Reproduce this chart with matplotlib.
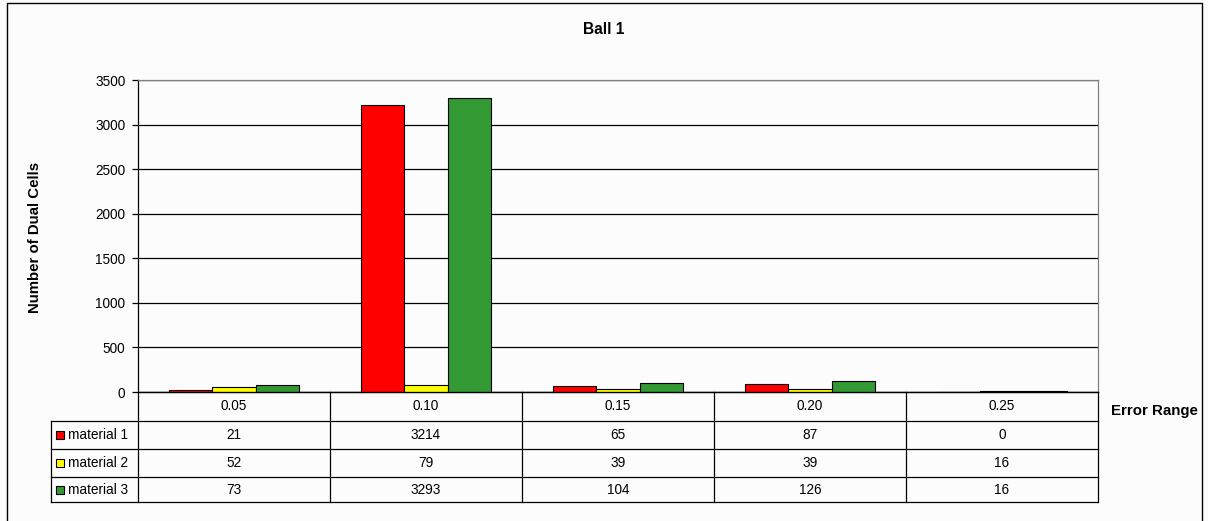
import matplotlib
matplotlib.use("Agg")
import matplotlib.pyplot as plt
from matplotlib.patches import Rectangle
from matplotlib.lines import Line2D
import numpy as np

plt.rcParams['font.family'] = ['Liberation Sans', 'DejaVu Sans']

# data
categories = ["0.05", "0.10", "0.15", "0.20", "0.25"]
series_names = ["material 1", "material 2", "material 3"]
material_1 = [21, 3214, 65, 87, 0]
material_2 = [52, 79, 39, 39, 16]
material_3 = [73, 3293, 104, 126, 16]
series_values = [material_1, material_2, material_3]
colors = ["#ff0000", "#ffff00", "#339933"]
yticks = [0, 500, 1000, 1500, 2000, 2500, 3000, 3500]

W, H = 1208, 521
bg = "#fbfcfb"
fs = 9.8
fs_bold = 10.8
fig = plt.figure(figsize=(W / 100, H / 100), dpi=100, facecolor=bg)


def fx(px):
    return px / W


def fy(py):
    return 1 - py / H


# plot area in pixels
left, right, top, bottom = 138, 1098, 80, 392
ax = fig.add_axes([fx(left), fy(bottom), fx(right - left), (bottom - top) / H])
ax.set_facecolor(bg)

x = np.arange(len(categories))
bw = 0.225
for i, (vals, c) in enumerate(zip(series_values, colors)):
    ax.bar(x + (i - 1) * bw, vals, width=bw, color=c, edgecolor="black",
           linewidth=0.8, zorder=3)

ax.set_xlim(-0.5, len(categories) - 0.5)
ax.set_ylim(0, 3500)
ax.set_yticks(yticks)
ax.set_yticklabels([str(t) for t in yticks], fontsize=fs)
ax.yaxis.grid(True, color="black", linewidth=0.9, zorder=0)
ax.tick_params(axis="y", direction="out", length=4, width=0.9, pad=5)
ax.set_xticks([])
for s in ["top", "right"]:
    ax.spines[s].set_color("#808080")
    ax.spines[s].set_linewidth(0.9)
for s in ["left", "bottom"]:
    ax.spines[s].set_color("black")
    ax.spines[s].set_linewidth(0.9)

# data table under the plot
row_y = [392, 421, 449, 477, 502]
col_w = (right - left) / len(categories)
col_x = [left + i * col_w for i in range(len(categories) + 1)]
leg_left = 51
lw = 0.9

def hline(x0, x1, y):
    fig.add_artist(Line2D([fx(x0), fx(x1)], [fy(y), fy(y)], color="black", lw=lw))


def vline(x0, y0, y1):
    fig.add_artist(Line2D([fx(x0), fx(x0)], [fy(y0), fy(y1)], color="black", lw=lw))


hline(left, right, row_y[0])
for y in row_y[1:]:
    hline(leg_left, right, y)
for cx in col_x:
    vline(cx, row_y[0], row_y[-1])
vline(leg_left, row_y[1], row_y[-1])

for j, cat in enumerate(categories):
    cxm = (col_x[j] + col_x[j + 1]) / 2
    fig.text(fx(cxm), fy((row_y[0] + row_y[1]) / 2), cat, ha="center",
             va="center", fontsize=fs)
    for i, vals in enumerate(series_values):
        fig.text(fx(cxm), fy((row_y[i + 1] + row_y[i + 2]) / 2), str(vals[j]),
                 ha="center", va="center", fontsize=fs)

for i, (name, c) in enumerate(zip(series_names, colors)):
    yc = (row_y[i + 1] + row_y[i + 2]) / 2
    fig.add_artist(Rectangle((fx(56), fy(yc + 4)), fx(8), 8 / H,
                             facecolor=c, edgecolor="black", lw=0.8))
    fig.text(fx(68), fy(yc), name, ha="left", va="center", fontsize=fs)

# titles
fig.text(fx(604), fy(30), "Ball 1", ha="center", va="center",
         fontsize=fs_bold + 0.4, fontweight="bold")
fig.text(fx(35), fy(237), "Number of Dual Cells", ha="center", va="center",
         rotation=90, fontsize=fs_bold, fontweight="bold")
fig.text(fx(1154), fy(411), "Error Range", ha="center", va="center",
         fontsize=fs_bold, fontweight="bold")

# chart frame
fig.add_artist(Line2D([fx(7), fx(7), fx(1202), fx(1202)],
                      [fy(H + 2), fy(3), fy(3), fy(H + 2)],
                      color="black", lw=1.0))

fig.savefig("out.png", dpi=100, facecolor=bg)
